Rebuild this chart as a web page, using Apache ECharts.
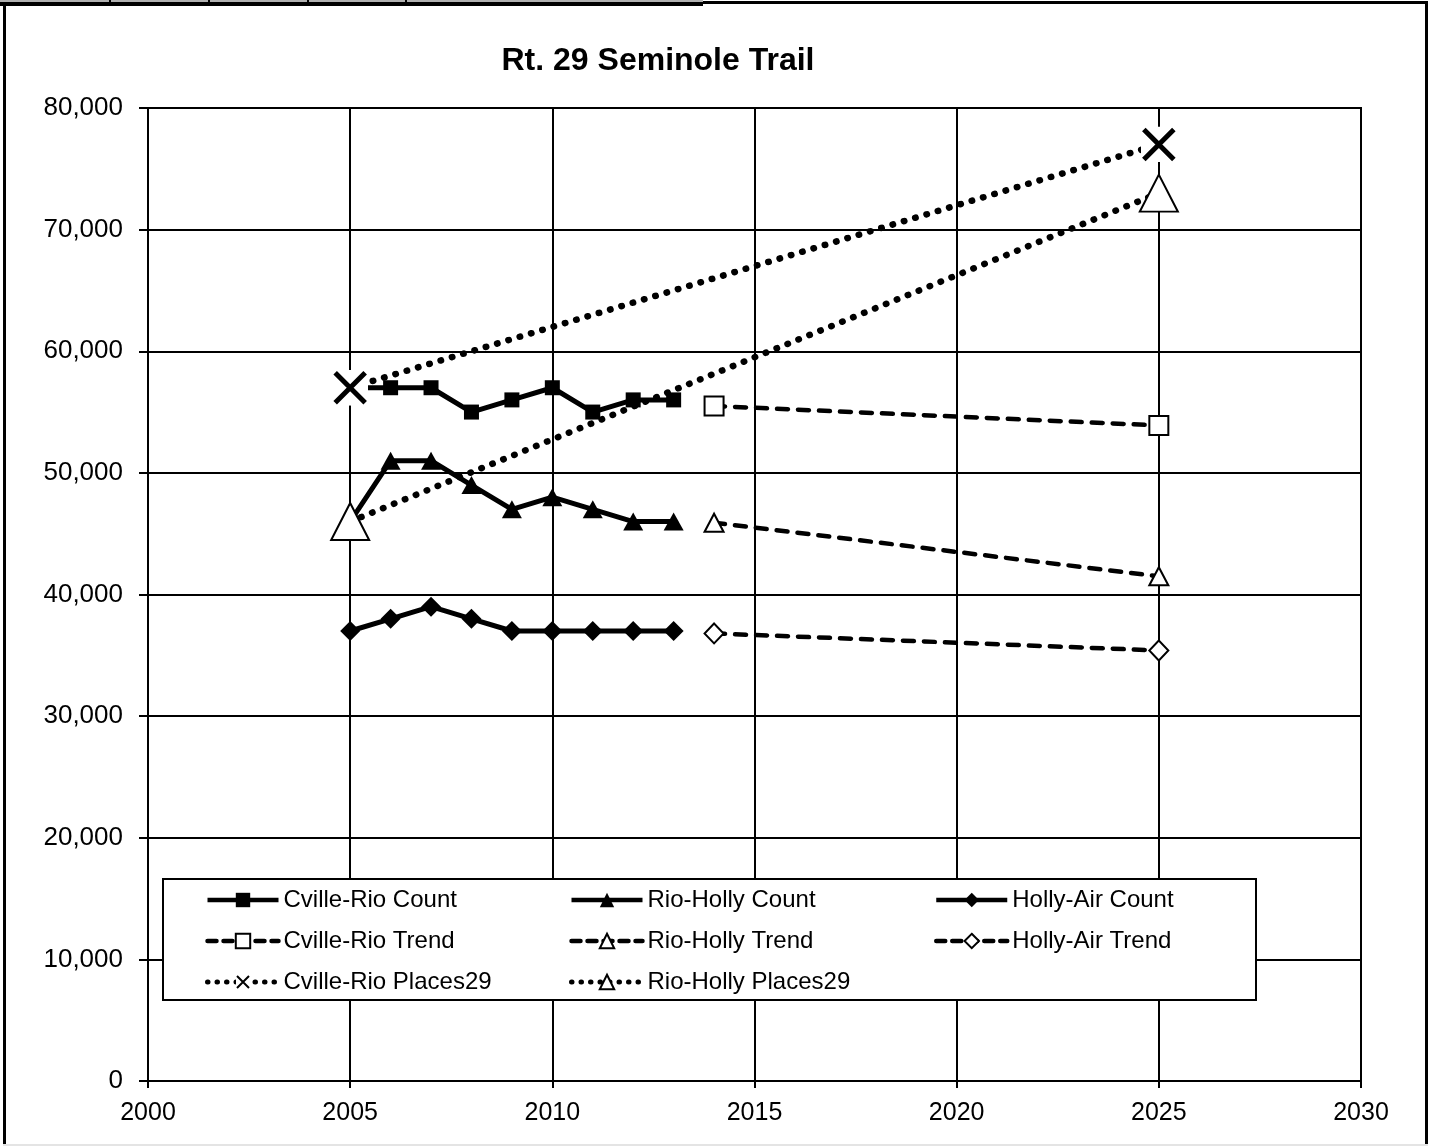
<!DOCTYPE html>
<html>
<head>
<meta charset="utf-8">
<title>Rt. 29 Seminole Trail</title>
<script src="https://cdn.jsdelivr.net/npm/echarts@6/dist/echarts.min.js"></script>
<style>
  html, body { margin: 0; padding: 0; background: #fff; }
  #chart { width: 1432px; height: 1146px; }
</style>
</head>
<body>
<div id="chart"></div>
<script>
// Traffic counts (vehicles per day) and projections along Rt. 29
const countYears = [2005, 2006, 2007, 2008, 2009, 2010, 2011, 2012, 2013];
const cvilleRioCount = [57000, 57000, 57000, 55000, 56000, 57000, 55000, 56000, 56000];
const rioHollyCount = [46000, 51000, 51000, 49000, 47000, 48000, 47000, 46000, 46000];
const hollyAirCount = [37000, 38000, 39000, 38000, 37000, 37000, 37000, 37000, 37000];

const trendYears = [2014, 2025];
const cvilleRioTrend = [55500, 53900];
const rioHollyTrend = [45900, 41500];
const hollyAirTrend = [36800, 35400];

const placesYears = [2005, 2025];
const cvilleRioPlaces = [57000, 77000];
const rioHollyPlaces = [46000, 73000];

const FONT = '"Liberation Sans", Arial, sans-serif';

function pairs(xs, ys) {
  return xs.map((x, i) => [x, ys[i]]);
}

// X marker with a white backing square
const xMarkerSvg =
  "<svg xmlns='http://www.w3.org/2000/svg' width='36' height='36'>" +
  "<rect width='36' height='36' fill='white'/>" +
  "<path d='M3 3L33 33M33 3L3 33' stroke='black' stroke-width='5' fill='none'/></svg>";
const xMarker = 'image://data:image/svg+xml;charset=utf-8,' + encodeURIComponent(xMarkerSvg);

const solid = { color: '#000', width: 5, type: 'solid' };
const dashed = { color: '#000', width: 4.5, type: [11, 10], cap: 'round' };
const dotted = { color: '#000', width: 6.5, type: [0.5, 11.3], cap: 'round' };

const filled = { color: '#000', borderColor: '#000', borderWidth: 0 };
const hollow = { color: '#fff', borderColor: '#000', borderWidth: 2 };

const series = [
  {
    name: 'Cville-Rio Count', type: 'line', z: 2,
    data: pairs(countYears, cvilleRioCount),
    symbol: 'rect', symbolSize: 15,
    lineStyle: solid, itemStyle: filled
  },
  {
    name: 'Rio-Holly Count', type: 'line', z: 2,
    data: pairs(countYears, rioHollyCount),
    symbol: 'triangle', symbolSize: [20, 18],
    lineStyle: solid, itemStyle: filled
  },
  {
    name: 'Holly-Air Count', type: 'line', z: 2,
    data: pairs(countYears, hollyAirCount),
    symbol: 'diamond', symbolSize: [20, 20],
    lineStyle: solid, itemStyle: filled
  },
  {
    name: 'Cville-Rio Trend', type: 'line', z: 2,
    data: pairs(trendYears, cvilleRioTrend),
    symbol: 'rect', symbolSize: 19,
    lineStyle: dashed, itemStyle: hollow
  },
  {
    name: 'Rio-Holly Trend', type: 'line', z: 2,
    data: pairs(trendYears, rioHollyTrend),
    symbol: 'triangle', symbolSize: [19, 18],
    lineStyle: dashed, itemStyle: hollow
  },
  {
    name: 'Holly-Air Trend', type: 'line', z: 2,
    data: pairs(trendYears, hollyAirTrend),
    symbol: 'diamond', symbolSize: [19, 20],
    lineStyle: dashed, itemStyle: hollow
  },
  {
    name: 'Cville-Rio Places29', type: 'line', z: 3,
    data: pairs(placesYears, cvilleRioPlaces),
    symbol: xMarker, symbolSize: 36,
    lineStyle: dotted, itemStyle: { color: '#000' }
  },
  {
    name: 'Rio-Holly Places29', type: 'line', z: 3,
    data: pairs(placesYears, rioHollyPlaces),
    symbol: 'triangle', symbolSize: [38, 37],
    lineStyle: dotted, itemStyle: hollow
  }
];
series.forEach(s => { s.animation = false; s.silent = true; s.emphasis = { disabled: true }; });

// legend entries reuse each series' line style, drawn a little lighter
const legendLine = {
  Count: { color: '#000', width: 4.5, type: 'solid' },
  Trend: { color: '#000', width: 4.5, type: [9, 7], cap: 'round' },
  Places29: { color: '#000', width: 5, type: [0.5, 9], cap: 'round' }
};

function legendColumn(left, names) {
  return {
    data: names.map(n => ({ name: n, lineStyle: legendLine[n.split(' ').pop()] })),
    orient: 'vertical',
    left: left,
    top: 888,
    padding: 0,
    itemWidth: 71,
    itemHeight: 18,
    itemGap: 17,
    z: 5,
    selectedMode: false,
    textStyle: { fontFamily: FONT, fontSize: 24, color: '#000', lineHeight: 24 }
  };
}

const chart = echarts.init(document.getElementById('chart'), null, { renderer: 'canvas' });

chart.setOption({
  backgroundColor: '#fff',
  animation: false,
  textStyle: { fontFamily: FONT },
  grid: {
    left: 148, right: 71, top: 108, bottom: 65,
    show: true, borderColor: '#000', borderWidth: 2, backgroundColor: 'transparent'
  },
  xAxis: {
    type: 'value', min: 2000, max: 2030, interval: 5,
    axisLine: { show: true, lineStyle: { color: '#000', width: 2 } },
    axisTick: { show: true, length: 7, lineStyle: { color: '#000', width: 2 } },
    axisLabel: {
      color: '#000', fontFamily: FONT, fontSize: 25, margin: 20,
      formatter: v => String(v)
    },
    splitLine: { show: true, lineStyle: { color: '#000', width: 2 } }
  },
  yAxis: {
    type: 'value', min: 0, max: 80000, interval: 10000,
    axisLine: { show: true, lineStyle: { color: '#000', width: 2 } },
    axisTick: { show: true, length: 9, lineStyle: { color: '#000', width: 2 } },
    axisLabel: {
      color: '#000', fontFamily: FONT, fontSize: 26, margin: 25,
      formatter: v => v.toLocaleString('en-US')
    },
    splitLine: { show: true, lineStyle: { color: '#000', width: 2 } }
  },
  legend: [
    legendColumn(205, ['Cville-Rio Count', 'Cville-Rio Trend', 'Cville-Rio Places29']),
    legendColumn(569, ['Rio-Holly Count', 'Rio-Holly Trend', 'Rio-Holly Places29']),
    legendColumn(934, ['Holly-Air Count', 'Holly-Air Trend'])
  ],
  graphic: [
    // legend box
    {
      type: 'rect', z: 4, silent: true,
      shape: { x: 163, y: 879, width: 1093, height: 121 },
      style: { fill: '#fff', stroke: '#000', lineWidth: 2 }
    },
    // chart title
    {
      type: 'text', z: 5, silent: true,
      style: {
        x: 658, y: 61, text: 'Rt. 29 Seminole Trail',
        textAlign: 'center', textVerticalAlign: 'middle',
        fontFamily: FONT, fontSize: 32, fontWeight: 'bold', fill: '#000'
      }
    },
    // outer chart frame
    { type: 'rect', z: 6, silent: true, shape: { x: 3, y: 0, width: 3, height: 1146 }, style: { fill: '#000' } },
    { type: 'rect', z: 6, silent: true, shape: { x: 1425, y: 1, width: 3, height: 1145 }, style: { fill: '#000' } },
    { type: 'rect', z: 6, silent: true, shape: { x: 703, y: 1, width: 725, height: 3 }, style: { fill: '#000' } },
    { type: 'rect', z: 6, silent: true, shape: { x: 0, y: 0, width: 703, height: 2 }, style: { fill: '#b0b0b0' } },
    { type: 'rect', z: 6, silent: true, shape: { x: 0, y: 2, width: 703, height: 4 }, style: { fill: '#000' } },
    { type: 'rect', z: 6, silent: true, shape: { x: 109, y: 0, width: 2, height: 2 }, style: { fill: '#000' } },
    { type: 'rect', z: 6, silent: true, shape: { x: 208, y: 0, width: 2, height: 2 }, style: { fill: '#000' } },
    { type: 'rect', z: 6, silent: true, shape: { x: 307, y: 0, width: 2, height: 2 }, style: { fill: '#000' } },
    { type: 'rect', z: 6, silent: true, shape: { x: 405, y: 0, width: 2, height: 2 }, style: { fill: '#000' } },
    { type: 'rect', z: 6, silent: true, shape: { x: 3, y: 1144, width: 1425, height: 2 }, style: { fill: '#e4e4e4' } }
  ],
  series: series
});
</script>
</body>
</html>
